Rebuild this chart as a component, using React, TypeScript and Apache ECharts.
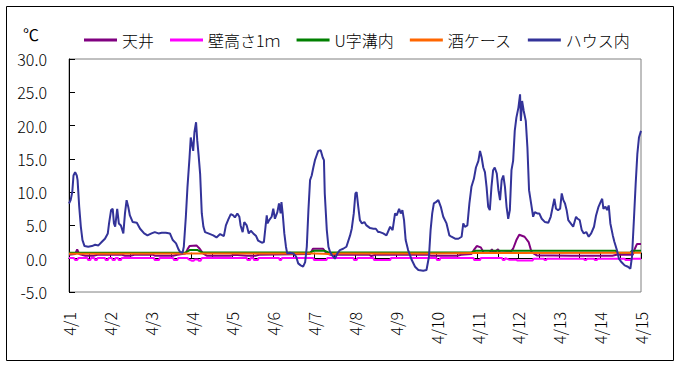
import React, { useEffect, useRef } from 'react';
import * as echarts from 'echarts';

// ---- data (x = days since 4/1 00:00, y = ℃) ----
const dayLabels = ['4/1', '4/2', '4/3', '4/4', '4/5', '4/6', '4/7', '4/8', '4/9', '4/10', '4/11', '4/12', '4/13', '4/14', '4/15'];
const seriesNames = ['天井', '壁高さ1ｍ', 'U字溝内', '酒ケース', 'ハウス内'];
const seriesColors = ['#800080', '#FF00FF', '#008000', '#FF6600', '#333399'];

const tenjo: [number, number][] = [
  [0, 0.6], [0.15, 0.7], [0.2, 1.4], [0.25, 0.7], [0.4, 0.45], [0.6, 0.45], [0.7, 0.6], [1.3, 0.6], [1.37, 0.45], [1.5, 0.45],
  [1.6, 0.6], [2.05, 0.6], [2.1, 0.45], [2.55, 0.45], [2.65, 0.6], [2.85, 0.8], [2.9, 1.4], [2.95, 1.9], [3.12, 2.0], [3.2, 1.5],
  [3.28, 0.8], [3.37, 0.45], [3.95, 0.45], [4.05, 0.6], [4.35, 0.45], [4.56, 0.45], [4.65, 0.6], [5.9, 0.7], [5.97, 1.5], [6.22, 1.5],
  [6.3, 0.8], [6.4, 0.6], [7.35, 0.6], [7.4, 0.4], [7.5, 0.6], [8.8, 0.6], [8.85, 0.45], [9.5, 0.45], [9.6, 0.6], [9.85, 0.7],
  [9.92, 1.4], [9.98, 1.9], [10.08, 1.7], [10.15, 0.9], [10.3, 0.9], [10.35, 1.4], [10.4, 0.9], [10.5, 1.4], [10.55, 0.9], [10.8, 1.0],
  [10.87, 1.5], [10.95, 2.8], [11.02, 3.6], [11.15, 3.3], [11.25, 2.5], [11.32, 1.0], [11.45, 0.5], [11.85, 0.5], [12.3, 0.45], [13.3, 0.45],
  [13.4, 0.6], [13.8, 0.6], [13.85, 1.5], [13.9, 2.2], [14, 2.2],
];

const kabe: [number, number][] = [
  [0, 0.1], [0.12, 0.1], [0.15, -0.2], [0.2, -0.2], [0.23, 0.1], [0.45, 0.1], [0.47, -0.2], [0.52, -0.2], [0.54, 0.1], [0.62, 0.1],
  [0.64, -0.2], [0.68, -0.2], [0.7, 0.1], [0.88, 0.1], [0.9, -0.2], [0.95, -0.2], [0.97, 0.1], [1.05, 0.1], [1.07, -0.2], [1.12, -0.2],
  [1.14, 0.1], [1.2, 0.1], [1.22, -0.2], [1.27, -0.2], [1.29, 0.1], [2.08, 0.1], [2.1, -0.2], [2.2, -0.2], [2.22, 0.1], [2.55, 0.1],
  [2.57, -0.2], [2.65, -0.2], [2.67, 0.1], [2.9, 0.1], [2.93, -0.1], [3.0, -0.3], [3.05, -0.3], [3.08, -0.1], [3.15, -0.1], [3.18, -0.3],
  [3.22, -0.3], [3.25, 0.1], [4.35, 0.1], [4.37, -0.2], [4.43, -0.2], [4.45, 0.1], [4.51, 0.1], [4.53, -0.2], [4.62, -0.2], [4.64, 0.1],
  [5.14, 0.1], [5.16, -0.2], [5.19, -0.2], [5.21, 0.1], [5.98, 0.1], [6.0, -0.2], [6.3, -0.2], [6.32, 0.1], [6.96, 0.1], [6.98, -0.2],
  [7.04, -0.2], [7.06, 0.1], [7.45, 0.1], [7.47, -0.2], [7.62, -0.2], [7.86, -0.2], [7.88, 0.1], [8.99, 0.1], [9.01, -0.2], [9.07, -0.2],
  [9.09, 0.1], [9.9, 0.1], [9.92, -0.2], [10.06, -0.2], [10.08, 0.1], [10.6, 0.1], [10.62, -0.2], [10.66, -0.2], [10.68, 0.1], [10.77, -0.15],
  [10.95, -0.15], [10.97, -0.25], [11.35, -0.25], [11.37, 0.0], [11.62, 0.0], [11.64, -0.2], [11.68, -0.2], [11.7, 0.0], [12.6, 0.0], [12.62, -0.2],
  [12.66, -0.2], [12.68, 0.0], [12.85, 0.0], [12.87, -0.2], [12.92, -0.2], [12.94, 0.0], [13.6, 0.0], [13.62, -0.2], [13.75, -0.2], [13.77, 0.0],
  [14, 0.0],
];

const uMizo: [number, number][] = [
  [0, 0.9], [2.85, 0.9], [2.95, 1.3], [3.15, 1.3], [3.25, 0.95], [5.9, 0.95], [6.0, 1.2], [6.25, 1.2], [6.35, 0.95], [9.85, 0.95],
  [9.95, 1.2], [13.38, 1.2], [13.42, 0.9], [13.74, 0.9], [13.78, 1.2], [14, 1.2],
];

const sakeCase: [number, number][] = [
  [0, 0.75], [3, 0.8], [6, 0.8], [6.4, 0.7], [6.6, 0.8], [9, 0.8], [10, 0.85], [14, 0.9],
];

const house: [number, number][] = [
  [0.00, 8.3], [0.04, 8.8], [0.08, 10.0], [0.11, 12.5], [0.15, 13.0], [0.19, 12.5], [0.21, 11.8], [0.25, 7.8], [0.29, 4.8], [0.33, 2.8],
  [0.38, 1.9], [0.47, 1.8], [0.56, 1.9], [0.64, 2.1], [0.72, 2.0], [0.80, 2.5], [0.88, 3.0], [0.95, 3.8], [0.98, 5.3], [1.03, 7.3],
  [1.07, 7.5], [1.10, 5.3], [1.13, 4.8], [1.18, 7.5], [1.22, 5.3], [1.27, 5.0], [1.33, 3.8], [1.37, 6.8], [1.41, 8.8], [1.45, 7.8],
  [1.49, 6.5], [1.56, 5.5], [1.66, 5.4], [1.74, 4.5], [1.84, 3.8], [1.92, 3.5], [2.02, 3.8], [2.10, 4.0], [2.19, 3.8], [2.27, 3.9],
  [2.37, 3.9], [2.47, 3.8], [2.54, 2.8], [2.62, 2.3], [2.68, 1.4], [2.72, 1.0], [2.78, 0.9], [2.81, 1.8], [2.86, 6.3], [2.90, 10.8],
  [2.95, 15.2], [2.98, 18.2], [3.01, 17.2], [3.04, 16.2], [3.07, 19.0], [3.11, 20.5], [3.14, 17.7], [3.17, 15.7], [3.21, 12.7], [3.25, 6.8],
  [3.29, 4.8], [3.33, 4.0], [3.41, 3.8], [3.53, 3.5], [3.61, 3.2], [3.70, 3.7], [3.79, 3.4], [3.84, 5.0], [3.90, 5.9], [3.96, 6.7],
  [4.02, 6.5], [4.06, 6.2], [4.12, 6.8], [4.17, 6.3], [4.20, 5.0], [4.25, 4.0], [4.29, 5.5], [4.35, 5.0], [4.40, 3.8], [4.45, 4.2],
  [4.51, 3.8], [4.58, 3.4], [4.63, 2.7], [4.72, 2.4], [4.77, 2.5], [4.81, 4.8], [4.84, 6.5], [4.86, 5.3], [4.90, 5.8], [4.96, 6.3],
  [5.00, 7.5], [5.04, 6.0], [5.10, 7.0], [5.14, 8.3], [5.18, 6.8], [5.20, 8.5], [5.23, 6.8], [5.27, 3.8], [5.31, 1.8], [5.34, 0.8],
  [5.41, 0.9], [5.49, 0.8], [5.56, 0.3], [5.61, -0.7], [5.67, -1.0], [5.73, -1.2], [5.78, -0.5], [5.82, 1.8], [5.86, 7.3], [5.90, 11.8],
  [5.94, 12.5], [5.98, 13.7], [6.02, 14.8], [6.06, 15.5], [6.10, 16.2], [6.16, 16.3], [6.21, 15.2], [6.24, 14.8], [6.26, 9.8], [6.31, 4.3],
  [6.35, 1.8], [6.39, 1.0], [6.44, 0.5], [6.51, 0.0], [6.57, 0.8], [6.63, 1.3], [6.71, 1.5], [6.79, 1.8], [6.88, 3.5], [6.92, 4.5],
  [6.97, 6.8], [7.01, 9.8], [7.04, 10.0], [7.08, 7.8], [7.12, 5.8], [7.17, 5.3], [7.23, 5.5], [7.28, 5.0], [7.37, 4.6], [7.45, 4.5],
  [7.51, 4.5], [7.57, 4.0], [7.61, 4.0], [7.69, 3.8], [7.77, 3.5], [7.86, 4.8], [7.92, 4.3], [7.98, 6.8], [8.02, 6.5], [8.08, 7.5],
  [8.12, 6.8], [8.16, 7.3], [8.20, 5.8], [8.24, 2.8], [8.30, 1.3], [8.39, -0.2], [8.47, -1.2], [8.55, -1.7], [8.67, -1.8], [8.75, -1.7],
  [8.81, 0.3], [8.85, 4.3], [8.89, 6.8], [8.93, 8.3], [8.98, 8.5], [9.04, 8.8], [9.10, 7.8], [9.16, 6.3], [9.24, 5.3], [9.31, 3.5],
  [9.36, 3.3], [9.45, 3.0], [9.53, 3.0], [9.61, 3.3], [9.65, 5.3], [9.69, 4.8], [9.75, 5.0], [9.80, 8.3], [9.85, 10.8], [9.91, 12.0],
  [9.96, 13.7], [10.02, 14.7], [10.06, 16.2], [10.10, 15.2], [10.14, 13.7], [10.18, 13.0], [10.22, 10.8], [10.26, 7.8], [10.30, 7.3], [10.34, 10.8],
  [10.38, 13.3], [10.42, 13.7], [10.47, 12.8], [10.51, 10.3], [10.55, 8.8], [10.59, 11.8], [10.63, 12.5], [10.67, 10.8], [10.71, 7.8], [10.75, 6.0],
  [10.79, 7.3], [10.83, 13.3], [10.87, 14.7], [10.91, 19.2], [10.95, 21.2], [11.00, 22.7], [11.04, 24.7], [11.06, 20.7], [11.09, 23.7], [11.13, 22.2],
  [11.18, 20.7], [11.22, 16.7], [11.26, 10.3], [11.31, 8.3], [11.36, 6.3], [11.40, 7.0], [11.46, 6.8], [11.51, 6.8], [11.57, 6.0], [11.65, 5.5],
  [11.73, 5.4], [11.79, 6.3], [11.84, 7.8], [11.88, 9.0], [11.92, 7.5], [11.97, 7.3], [12.02, 7.5], [12.06, 9.8], [12.10, 8.8], [12.14, 8.3],
  [12.18, 7.3], [12.22, 5.8], [12.28, 5.3], [12.34, 4.8], [12.41, 6.3], [12.45, 6.0], [12.50, 5.8], [12.55, 4.3], [12.60, 3.8], [12.66, 4.0],
  [12.72, 3.3], [12.78, 3.8], [12.85, 4.8], [12.90, 6.5], [12.96, 7.8], [13.01, 8.5], [13.05, 9.0], [13.08, 7.5], [13.13, 7.8], [13.17, 7.3],
  [13.21, 8.0], [13.25, 5.3], [13.31, 3.5], [13.35, 2.5], [13.41, 1.3], [13.46, 0.0], [13.52, -0.5], [13.60, -1.0], [13.68, -1.2], [13.74, -1.5],
  [13.78, 0.3], [13.83, 6.3], [13.87, 11.3], [13.91, 15.7], [13.95, 18.2], [14.00, 19.2],
];

const seriesData = [tenjo, kabe, uMizo, sakeCase, house];

const FONT = '"Noto Sans CJK JP", "Noto Sans", sans-serif';

export default function App() {
  const ref = useRef<HTMLDivElement>(null);

  useEffect(() => {
    if (!ref.current) return;
    const chart = echarts.init(ref.current, undefined, { renderer: 'svg' });
    chart.setOption({
      animation: false,
      backgroundColor: '#ffffff',
      textStyle: { fontFamily: FONT },
      graphic: [
        {
          type: 'rect',
          shape: { x: 6.5, y: 6.5, width: 667, height: 354 },
          style: { fill: 'none', stroke: '#000', lineWidth: 1 },
          silent: true,
        },
        {
          type: 'text',
          left: 23,
          top: 26,
          style: { text: '℃', fontSize: 16, fontFamily: FONT, fill: '#000' },
          silent: true,
        },
      ],
      legend: {
        left: 79,
        top: 27,
        icon: 'rect',
        itemWidth: 33,
        itemHeight: 3,
        itemGap: 16,
        data: seriesNames,
        textStyle: { fontSize: 16, fontFamily: FONT, color: '#000', fontWeight: 300 },
      },
      grid: {
        left: 69,
        top: 59,
        width: 572,
        height: 233,
        show: true,
        borderColor: '#808080',
        borderWidth: 1,
        backgroundColor: 'transparent',
      },
      xAxis: {
        type: 'value',
        min: 0,
        max: 14,
        interval: 0.5,
        axisLine: { show: true, lineStyle: { color: '#000', width: 1 } },
        axisTick: { show: true, inside: true, length: 6, lineStyle: { color: '#000' } },
        splitLine: { show: false },
        axisLabel: {
          rotate: 90,
          margin: 20,
          fontSize: 16,
          fontFamily: FONT,
          fontWeight: 300,
          color: '#000',
          showMinLabel: true,
          showMaxLabel: true,
          formatter: (v: number) => {
            const r = Math.round(v);
            return Math.abs(v - r) < 1e-6 ? dayLabels[r] : '';
          },
        },
      },
      yAxis: {
        type: 'value',
        min: -5,
        max: 30,
        interval: 5,
        axisLine: { show: true, lineStyle: { color: '#000', width: 1 } },
        axisTick: { show: true, inside: true, length: 6, lineStyle: { color: '#000' } },
        splitLine: { show: false },
        axisLabel: {
          margin: 22,
          fontSize: 16,
          fontFamily: FONT,
          fontWeight: 300,
          color: '#000',
          formatter: (v: number) => v.toFixed(1),
        },
      },
      series: seriesNames.map((name, i) => ({
        name,
        type: 'line',
        data: seriesData[i],
        symbol: 'none',
        showSymbol: false,
        color: seriesColors[i],
        lineStyle: { color: seriesColors[i], width: 2 },
        itemStyle: { color: seriesColors[i] },
        z: 2 + i,
      })),
    });
    return () => chart.dispose();
  }, []);

  return (
    <div
      ref={ref}
      style={{ position: 'absolute', left: 0, top: 0, width: 681, height: 367, background: '#fff' }}
    />
  );
}
